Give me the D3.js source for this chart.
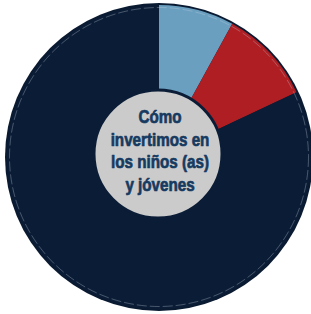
<!DOCTYPE html>
<html>
<head>
<meta charset="utf-8">
<script src="https://cdn.jsdelivr.net/npm/d3@7/dist/d3.min.js"></script>
<style>
html,body{margin:0;padding:0;background:#fff;}
svg{display:block;}
</style>
</head>
<body>
<svg id="chart" width="311" height="314"></svg>
<script>
const categories = ["Segmento A", "Segmento B", "Segmento C"];
const values = [8, 10, 82];
const colors = ["#6a9fc0", "#ae1e23", "#0b1d36"];
const centerLines = ["Cómo", "invertimos en", "los niños (as)", "y jóvenes"];

const svg = d3.select("#chart");
const cx = 159, cy = 157, R = 154;
const g = svg.append("g").attr("transform", `translate(${cx},${cy})`);

const data = categories.map((c, i) => ({cat: c, value: values[i], color: colors[i]}));
const pie = d3.pie().value(d => d.value).sort(null);
const arc = d3.arc().innerRadius(0).outerRadius(R - 2);

// outer dark disc / ring
g.append("circle").attr("r", R).attr("fill", "#0a1a31");

g.selectAll("path.slice")
  .data(pie(data))
  .join("path")
  .attr("class", "slice")
  .attr("d", arc)
  .attr("fill", d => d.data.color);

// faint inner line near the edge
g.append("circle")
  .attr("r", R - 4.5)
  .attr("fill", "none")
  .attr("stroke", "rgba(200,210,225,0.4)")
  .attr("stroke-width", 0.8)
  .attr("stroke-dasharray", "10,3");

// center disc
const ic = g.append("g").attr("transform", "translate(-1,-3)");
ic.append("circle")
  .attr("r", 64)
  .attr("fill", "#cbcbcb")
  .attr("stroke", "#0b1d36")
  .attr("stroke-width", 3);

const lineH = 22.7;
const startY = -31;
ic.selectAll("text.center")
  .data(centerLines)
  .join("text")
  .attr("class", "center")
  .attr("transform", (d, i) => `translate(2,${startY + i * lineH}) scale(0.8,1)`)
  .attr("text-anchor", "middle")
  .style("font-family", "'Liberation Sans', Arial, sans-serif")
  .style("font-weight", "700")
  .attr("font-size", 19)
  .attr("fill", "#163a60")
  .attr("stroke", "#163a60")
  .attr("stroke-width", 0.7)
  .attr("stroke-linejoin", "round")
  .text(d => d);
</script>
</body>
</html>
